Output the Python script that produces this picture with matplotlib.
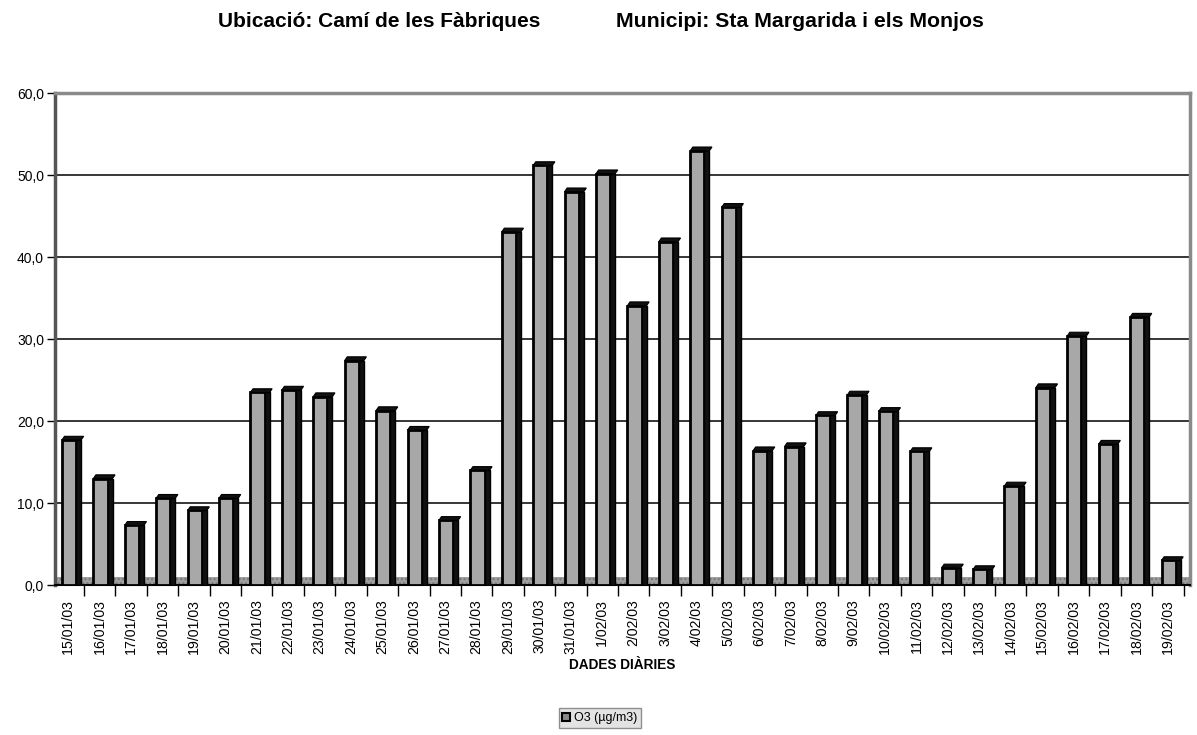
import matplotlib
matplotlib.use("Agg")
import matplotlib.pyplot as plt
from matplotlib.patches import Polygon, Patch
import numpy as np

plt.rcParams['font.family'] = ['Liberation Sans', 'DejaVu Sans']

dates = ["15/01/03", "16/01/03", "17/01/03", "18/01/03", "19/01/03", "20/01/03",
         "21/01/03", "22/01/03", "23/01/03", "24/01/03", "25/01/03", "26/01/03",
         "27/01/03", "28/01/03", "29/01/03", "30/01/03", "31/01/03", "1/02/03",
         "2/02/03", "3/02/03", "4/02/03", "5/02/03", "6/02/03", "7/02/03",
         "8/02/03", "9/02/03", "10/02/03", "11/02/03", "12/02/03", "13/02/03",
         "14/02/03", "15/02/03", "16/02/03", "17/02/03", "18/02/03", "19/02/03"]
o3 = [17.7, 13.0, 7.3, 10.6, 9.1, 10.6,
      23.5, 23.8, 23.0, 27.4, 21.3, 18.9,
      7.9, 14.0, 43.1, 51.2, 48.0, 50.2,
      34.1, 41.9, 53.0, 46.1, 16.4, 16.9,
      20.7, 23.2, 21.2, 16.3, 2.1, 1.9,
      12.1, 24.1, 30.4, 17.2, 32.7, 3.0]
yticks = [0, 10, 20, 30, 40, 50, 60]
ytick_labels = ["0,0", "10,0", "20,0", "30,0", "40,0", "50,0", "60,0"]

fig = plt.figure(figsize=(11.97, 7.35), dpi=100)
ax = fig.add_axes([0.046, 0.204, 0.948, 0.669])

x = np.arange(len(dates))
front_w = 0.45
side_w = 0.16
front_off = -0.2

# floor band
ax.axhspan(0, 1.0, facecolor='#a0a0a0', edgecolor='#777777', hatch='....',
           linewidth=0, zorder=1)

# gridlines
for v in yticks[1:-1]:
    ax.axhline(v, color='black', lw=1.1, zorder=0.5)

# bars: front face
ax.bar(x + front_off, o3, width=front_w, align='edge', color='#a8a8a8',
       edgecolor='black', linewidth=2.0, zorder=3)
# dark side face
ax.bar(x + front_off + front_w, o3, width=side_w, align='edge', color='#111111',
       edgecolor='black', linewidth=1.0, zorder=3)
# top caps
for xi, v in zip(x, o3):
    l = xi + front_off
    r = l + front_w + side_w
    cap = Polygon([(l, v), (r, v), (r + 0.08, v + 0.45), (l + 0.08, v + 0.45)],
                  closed=True, facecolor='#111111', edgecolor='black', lw=0.8, zorder=4)
    ax.add_patch(cap)

ax.set_xlim(-0.42, 35.7)
ax.set_ylim(0, 60)

ax.set_yticks(yticks)
ax.set_yticklabels(ytick_labels, fontsize=10)
ax.tick_params(axis='y', length=6, width=1, pad=2)

ax.set_xticks(x)
ax.set_xticklabels(dates, rotation=90, fontsize=10.2)
ax.tick_params(axis='x', which='major', length=0, pad=10)
ax.set_xticks(np.arange(len(dates)) + 0.5, minor=True)
ax.tick_params(axis='x', which='minor', length=8, width=1)

for s in ['top', 'right']:
    ax.spines[s].set_color('#8a8a8a')
    ax.spines[s].set_linewidth(2.5)
ax.spines['left'].set_color('#555555')
ax.spines['left'].set_linewidth(2.5)
ax.spines['bottom'].set_color('black')
ax.spines['bottom'].set_linewidth(1.5)

ax.set_xlabel("DADES DIÀRIES", fontsize=9.8, fontweight='bold', labelpad=3)

fig.text(0.317, 0.971, "Ubicació: Camí de les Fàbriques", fontsize=15,
         fontweight='bold', ha='center', va='center')
fig.text(0.668, 0.971, "Municipi: Sta Margarida i els Monjos", fontsize=15.3,
         fontweight='bold', ha='center', va='center')

handle = Patch(facecolor='#888888', edgecolor='black', linewidth=1.5)
leg = fig.legend([handle], ["O3 (µg/m3)"], loc='center',
                 bbox_to_anchor=(0.501, 0.023), fontsize=9, frameon=True,
                 fancybox=False, handlelength=0.6, handleheight=0.6,
                 handletextpad=0.3, borderpad=0.3)
leg.get_frame().set_facecolor('#dcdcdc')
leg.get_frame().set_edgecolor('#777777')
leg.get_frame().set_linewidth(1.0)

fig.savefig("out.png", dpi=100)
